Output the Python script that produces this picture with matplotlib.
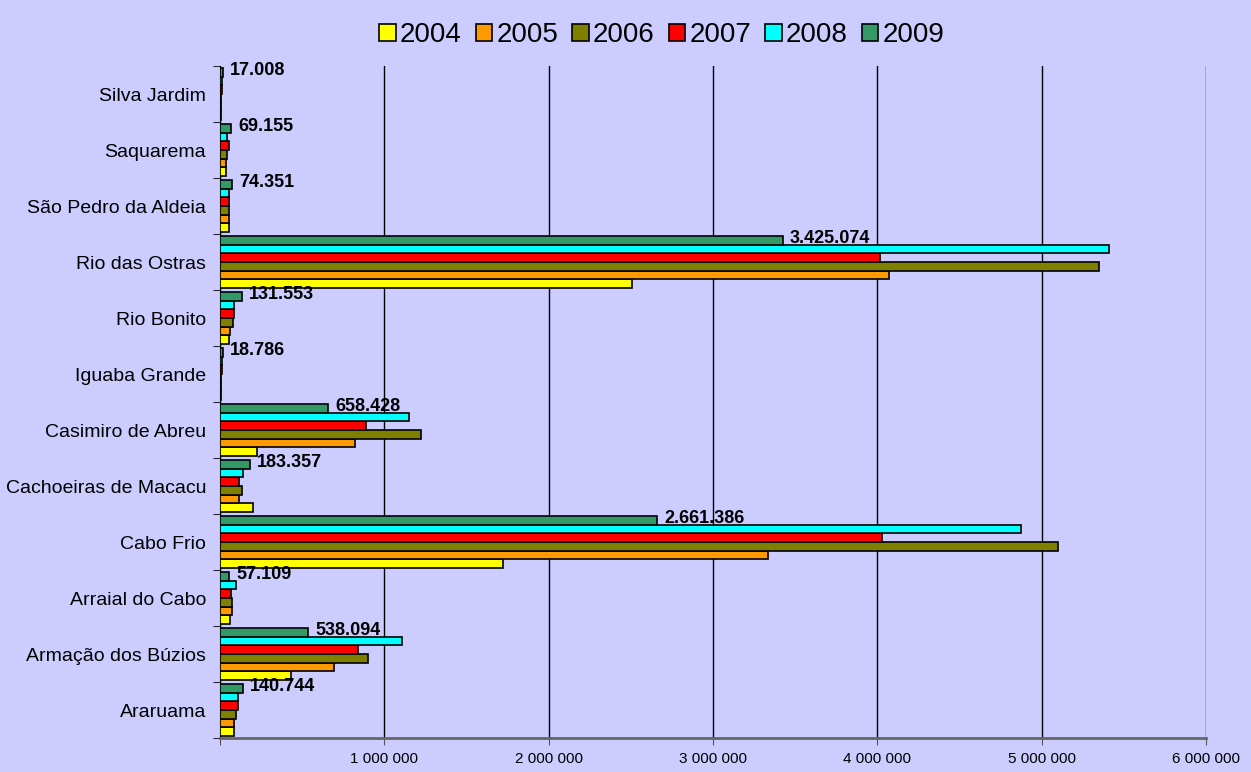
import numpy as np
import matplotlib
matplotlib.use("Agg")
import matplotlib.pyplot as plt
from matplotlib.ticker import FuncFormatter

plt.rcParams["font.family"] = ["Liberation Sans", "DejaVu Sans"]

# municipios, de baixo para cima
cidades = ["Araruama", "Armação dos Búzios", "Arraial do Cabo", "Cabo Frio",
           "Cachoeiras de Macacu", "Casimiro de Abreu", "Iguaba Grande",
           "Rio Bonito", "Rio das Ostras", "São Pedro da Aldeia", "Saquarema",
           "Silva Jardim"]

anos = ["2004", "2005", "2006", "2007", "2008", "2009"]

v2004 = [85000, 432000, 61000, 1720000, 203000, 223000, 6000, 53000, 2505000, 53000, 36000, 5000]
v2005 = [85000, 693000, 75000, 3335000, 116000, 821000, 7000, 63000, 4070000, 53000, 36000, 6000]
v2006 = [97000, 900000, 73000, 5100000, 132000, 1220000, 8000, 77000, 5350000, 53000, 45000, 6000]
v2007 = [108000, 839000, 65000, 4026000, 117000, 888000, 12000, 85000, 4016000, 57000, 52000, 10000]
v2008 = [111000, 1106000, 97000, 4873000, 138000, 1151000, 10000, 85000, 5410000, 57000, 45000, 9000]
v2009 = [140744, 538094, 57109, 2661386, 183357, 658428, 18786, 131553, 3425074, 74351, 69155, 17008]

cores = ["#FFFF00", "#FF9900", "#808000", "#FF0000", "#00FFFF", "#339966"]
series = [v2004, v2005, v2006, v2007, v2008, v2009]

bg = "#CCCCFF"
fig = plt.figure(figsize=(12.51, 7.72), dpi=100, facecolor=bg)
ax = fig.add_axes([0.1759, 0.044, 0.7882, 0.8705], facecolor=bg)

y = np.arange(len(cidades))
h = 0.155
for i, (vals, cor, ano) in enumerate(zip(series, cores, anos)):
    off = (i - 2.5) * h
    ax.barh(y + off, vals, height=h, color=cor, edgecolor="black",
            linewidth=1.2, label=ano, zorder=3)

# rotulos da serie 2009
off09 = 2.5 * h
for yi, v in zip(y, v2009):
    txt = f"{v:,}".replace(",", ".")
    ax.annotate(txt, (v, yi + off09), xytext=(5, 1), textcoords="offset points",
                ha="left", va="center", fontsize=13, fontweight="bold", zorder=4)

ax.set_xlim(0, 6000000)
ax.set_ylim(-0.5, len(cidades) - 0.5)
ax.set_xticks(np.arange(0, 6000001, 1000000))
ax.xaxis.set_major_formatter(FuncFormatter(
    lambda x, p: "" if x == 0 else f"{int(x):,}".replace(",", " ")))
ax.grid(axis="x", color="black", linewidth=1, zorder=1)
ax.tick_params(axis="x", length=5, direction="out", labelsize=11, pad=5,
               color="#555555")

ax.set_yticks(y)
ax.set_yticklabels(cidades, fontsize=14)
ax.set_yticks(np.arange(-0.5, len(cidades)), minor=True)
ax.tick_params(axis="y", which="major", length=0, pad=10)
ax.tick_params(axis="y", which="minor", length=5, direction="out", color="black")

for s in ["top", "right"]:
    ax.spines[s].set_visible(False)
ax.spines["left"].set_color("black")
ax.spines["bottom"].set_color("#666666")
ax.spines["bottom"].set_linewidth(2)

fig.legend(loc="upper center", bbox_to_anchor=(0.529, 1.0), ncol=6,
           frameon=False, fontsize=20, handlelength=0.6, handleheight=0.6,
           handletextpad=0.15, columnspacing=0.5, borderaxespad=0.4)

fig.savefig("out.png", dpi=100, facecolor=bg)
